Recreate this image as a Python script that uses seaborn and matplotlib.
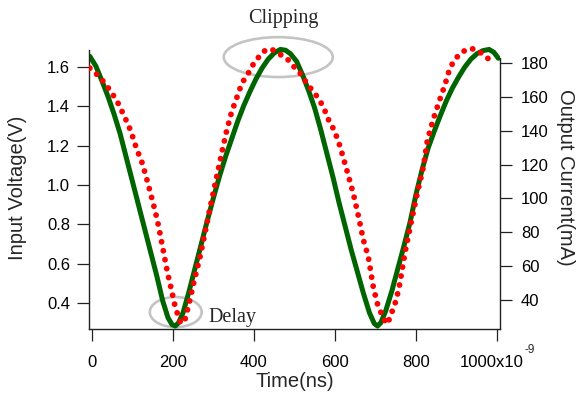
import pandas as pd
import matplotlib
matplotlib.use("Agg")
import matplotlib.pyplot as plt
import matplotlib.transforms as mtransforms
from matplotlib.patches import Ellipse
import seaborn as sns

# input voltage trace (green), time in ns
volt_t = [-5, 10, 25, 40, 55, 70, 85, 100, 115, 130, 145, 160, 175, 188, 198,
          206, 214, 225, 240, 255, 270, 285, 300, 315, 330, 345, 360, 375, 390,
          405, 420, 435, 450, 465, 478, 490, 505, 520, 535, 550, 565, 580, 595,
          610, 625, 640, 655, 670, 685, 697, 705, 713, 725, 740, 755, 770, 785,
          800, 815, 830, 845, 860, 875, 890, 905, 920, 935, 950, 965, 980, 992,
          1003]
volt_v = [1.655, 1.605, 1.53, 1.45, 1.36, 1.26, 1.14, 1.02, 0.90, 0.78, 0.66,
          0.54, 0.41, 0.325, 0.29, 0.283, 0.30, 0.35, 0.46, 0.58, 0.70, 0.82,
          0.935, 1.045, 1.145, 1.235, 1.325, 1.405, 1.475, 1.54, 1.595, 1.64,
          1.672, 1.69, 1.686, 1.668, 1.63, 1.56, 1.48, 1.39, 1.28, 1.16, 1.04,
          0.91, 0.79, 0.67, 0.56, 0.45, 0.35, 0.295, 0.283, 0.30, 0.36, 0.46,
          0.575, 0.69, 0.81, 0.955, 1.08, 1.19, 1.275, 1.355, 1.43, 1.495,
          1.55, 1.60, 1.64, 1.668, 1.684, 1.69, 1.675, 1.645]

# output current trace (red dots)
cur_t = [-5, 16, 34, 47, 61, 80, 96, 110, 124, 135, 146, 156, 165, 176, 187, 197,
         205, 217, 223, 230, 240, 253, 267, 279, 294, 308, 322, 333, 345, 357,
         370, 386, 394, 410, 423, 435, 444, 460, 481, 497, 518, 530, 545, 559,
         571, 586, 598, 612, 629, 645, 658, 670, 682, 695, 705, 719, 729, 736,
         751, 760, 773, 789, 802, 818, 828, 843, 858, 871, 882, 892, 907, 925,
         936, 946, 962, 987]
cur_ma = [177, 172.5, 167.6, 163, 158.1, 148.7, 140, 129.6, 121.1, 111.9, 102,
          92.8, 83.3, 69.5, 55.8, 45.5, 36.6, 27.6, 26, 28.6, 38.1, 51.8, 65.6,
          79.4, 97.1, 112.8, 128.6, 140.4, 151.2, 159.1, 168, 173.9, 177.8, 183,
          186.7, 188.3, 188.1, 185.7, 182.8, 178.2, 172.9, 168, 163.6, 159.1,
          154.2, 145.3, 140.4, 131, 116.8, 103, 89.2, 75.5, 65.6, 46.9, 37.5,
          29.2, 25.8, 30, 40, 49.9, 68.5, 87.3, 102, 118.7, 134.5, 147.3, 158.1,
          167, 175.9, 180.8, 185.3, 188.1, 188.5, 188.1, 185.7, 180.8]

x_ticks = [0, 200, 400, 600, 800, 1000]
x_labels = ["0", "200", "400", "600", "800", "1000x10"]
v_ticks = [0.4, 0.6, 0.8, 1.0, 1.2, 1.4, 1.6]
ma_ticks = [40, 60, 80, 100, 120, 140, 160, 180]

sns.set_style("ticks")
plt.rcParams["font.family"] = ["Liberation Sans", "DejaVu Sans"]

volt_df = pd.DataFrame({"t": volt_t, "v": volt_v})
cur_df = pd.DataFrame({"t": cur_t, "ma": cur_ma})

fig = plt.figure(figsize=(5.82, 3.94), dpi=100)
ax = fig.add_axes([0.1529, 0.165, 0.7062, 0.718])
ax2 = ax.twinx()

ax.add_patch(Ellipse((460, 1.651), 269, 0.203, fill=False, ec="#c4c4c4",
                     lw=1.9, clip_on=False, zorder=1))
ax.add_patch(Ellipse((207, 0.354), 128, 0.153, fill=False, ec="#c4c4c4",
                     lw=1.9, clip_on=False, zorder=1))

sns.lineplot(data=volt_df, x="t", y="v", ax=ax, color="#006400", lw=3.6,
             solid_capstyle="round", solid_joinstyle="round", zorder=2)
sns.lineplot(data=cur_df, x="t", y="ma", ax=ax2, color="#ff0000", lw=4.2,
             linestyle=(0, (0.01, 1.55)), dash_capstyle="round")

ax.set_xlim(-7, 1007)
ax.set_ylim(0.268, 1.707)
ax2.set_ylim(22.9, 190.0)

ax.set_xticks(x_ticks)
ax.set_xticklabels(x_labels)
ax.set_yticks(v_ticks)
ax.set_yticklabels([f"{v:.1f}" for v in v_ticks])
ax2.set_yticks(ma_ticks)

for a in (ax, ax2):
    a.tick_params(length=8.5, width=0.9, color="#222222", labelsize=12,
                  labelcolor="black", direction="out")
ax.tick_params(axis="x", pad=10)
ax.tick_params(axis="y", pad=5)
ax2.tick_params(axis="y", pad=6.5)

# last label sits a little left of its tick, exponent after it
last = ax.get_xticklabels()[-1]
last.set_transform(last.get_transform() +
                   mtransforms.ScaledTranslation(-0.05, 0, fig.dpi_scale_trans))
ax.annotate("-9", xy=(1000, 0), xycoords=("data", "axes fraction"),
            xytext=(20, -11), textcoords="offset points", fontsize=8.5,
            ha="left", va="top", annotation_clip=False)

ax.spines["top"].set_visible(False)
ax.spines["right"].set_visible(False)
ax2.spines["top"].set_visible(False)
ax2.spines["left"].set_visible(False)
ax2.spines["bottom"].set_visible(False)
for s in (ax.spines["left"], ax.spines["bottom"], ax2.spines["right"]):
    s.set_color("#222222")
    s.set_linewidth(1.0)
ax.spines["left"].set_bounds(0.268, 1.686)
ax2.spines["right"].set_bounds(22.9, 183)

ax.set_xlabel("Time(ns)", fontsize=14.5)
ax.xaxis.set_label_coords(0.5, -0.185)
ax.xaxis.label.set_va("center")
ax.set_ylabel("Input Voltage(V)", fontsize=14.5)
ax2.set_ylabel("Output Current(mA)", fontsize=14.5, rotation=270)
ax.yaxis.set_label_coords(-0.15, 0.5)
ax2.yaxis.set_label_coords(1.182, 0.535)

fig.text(283.5 / 582, 1 - 23 / 394, "Clipping", family="Liberation Serif",
         fontsize=14.5, ha="center", va="baseline")
fig.text(208 / 582, 1 - 322 / 394, "Delay", family="Liberation Serif",
         fontsize=14.5, ha="left", va="baseline")

fig.savefig("out.png", dpi=100)
